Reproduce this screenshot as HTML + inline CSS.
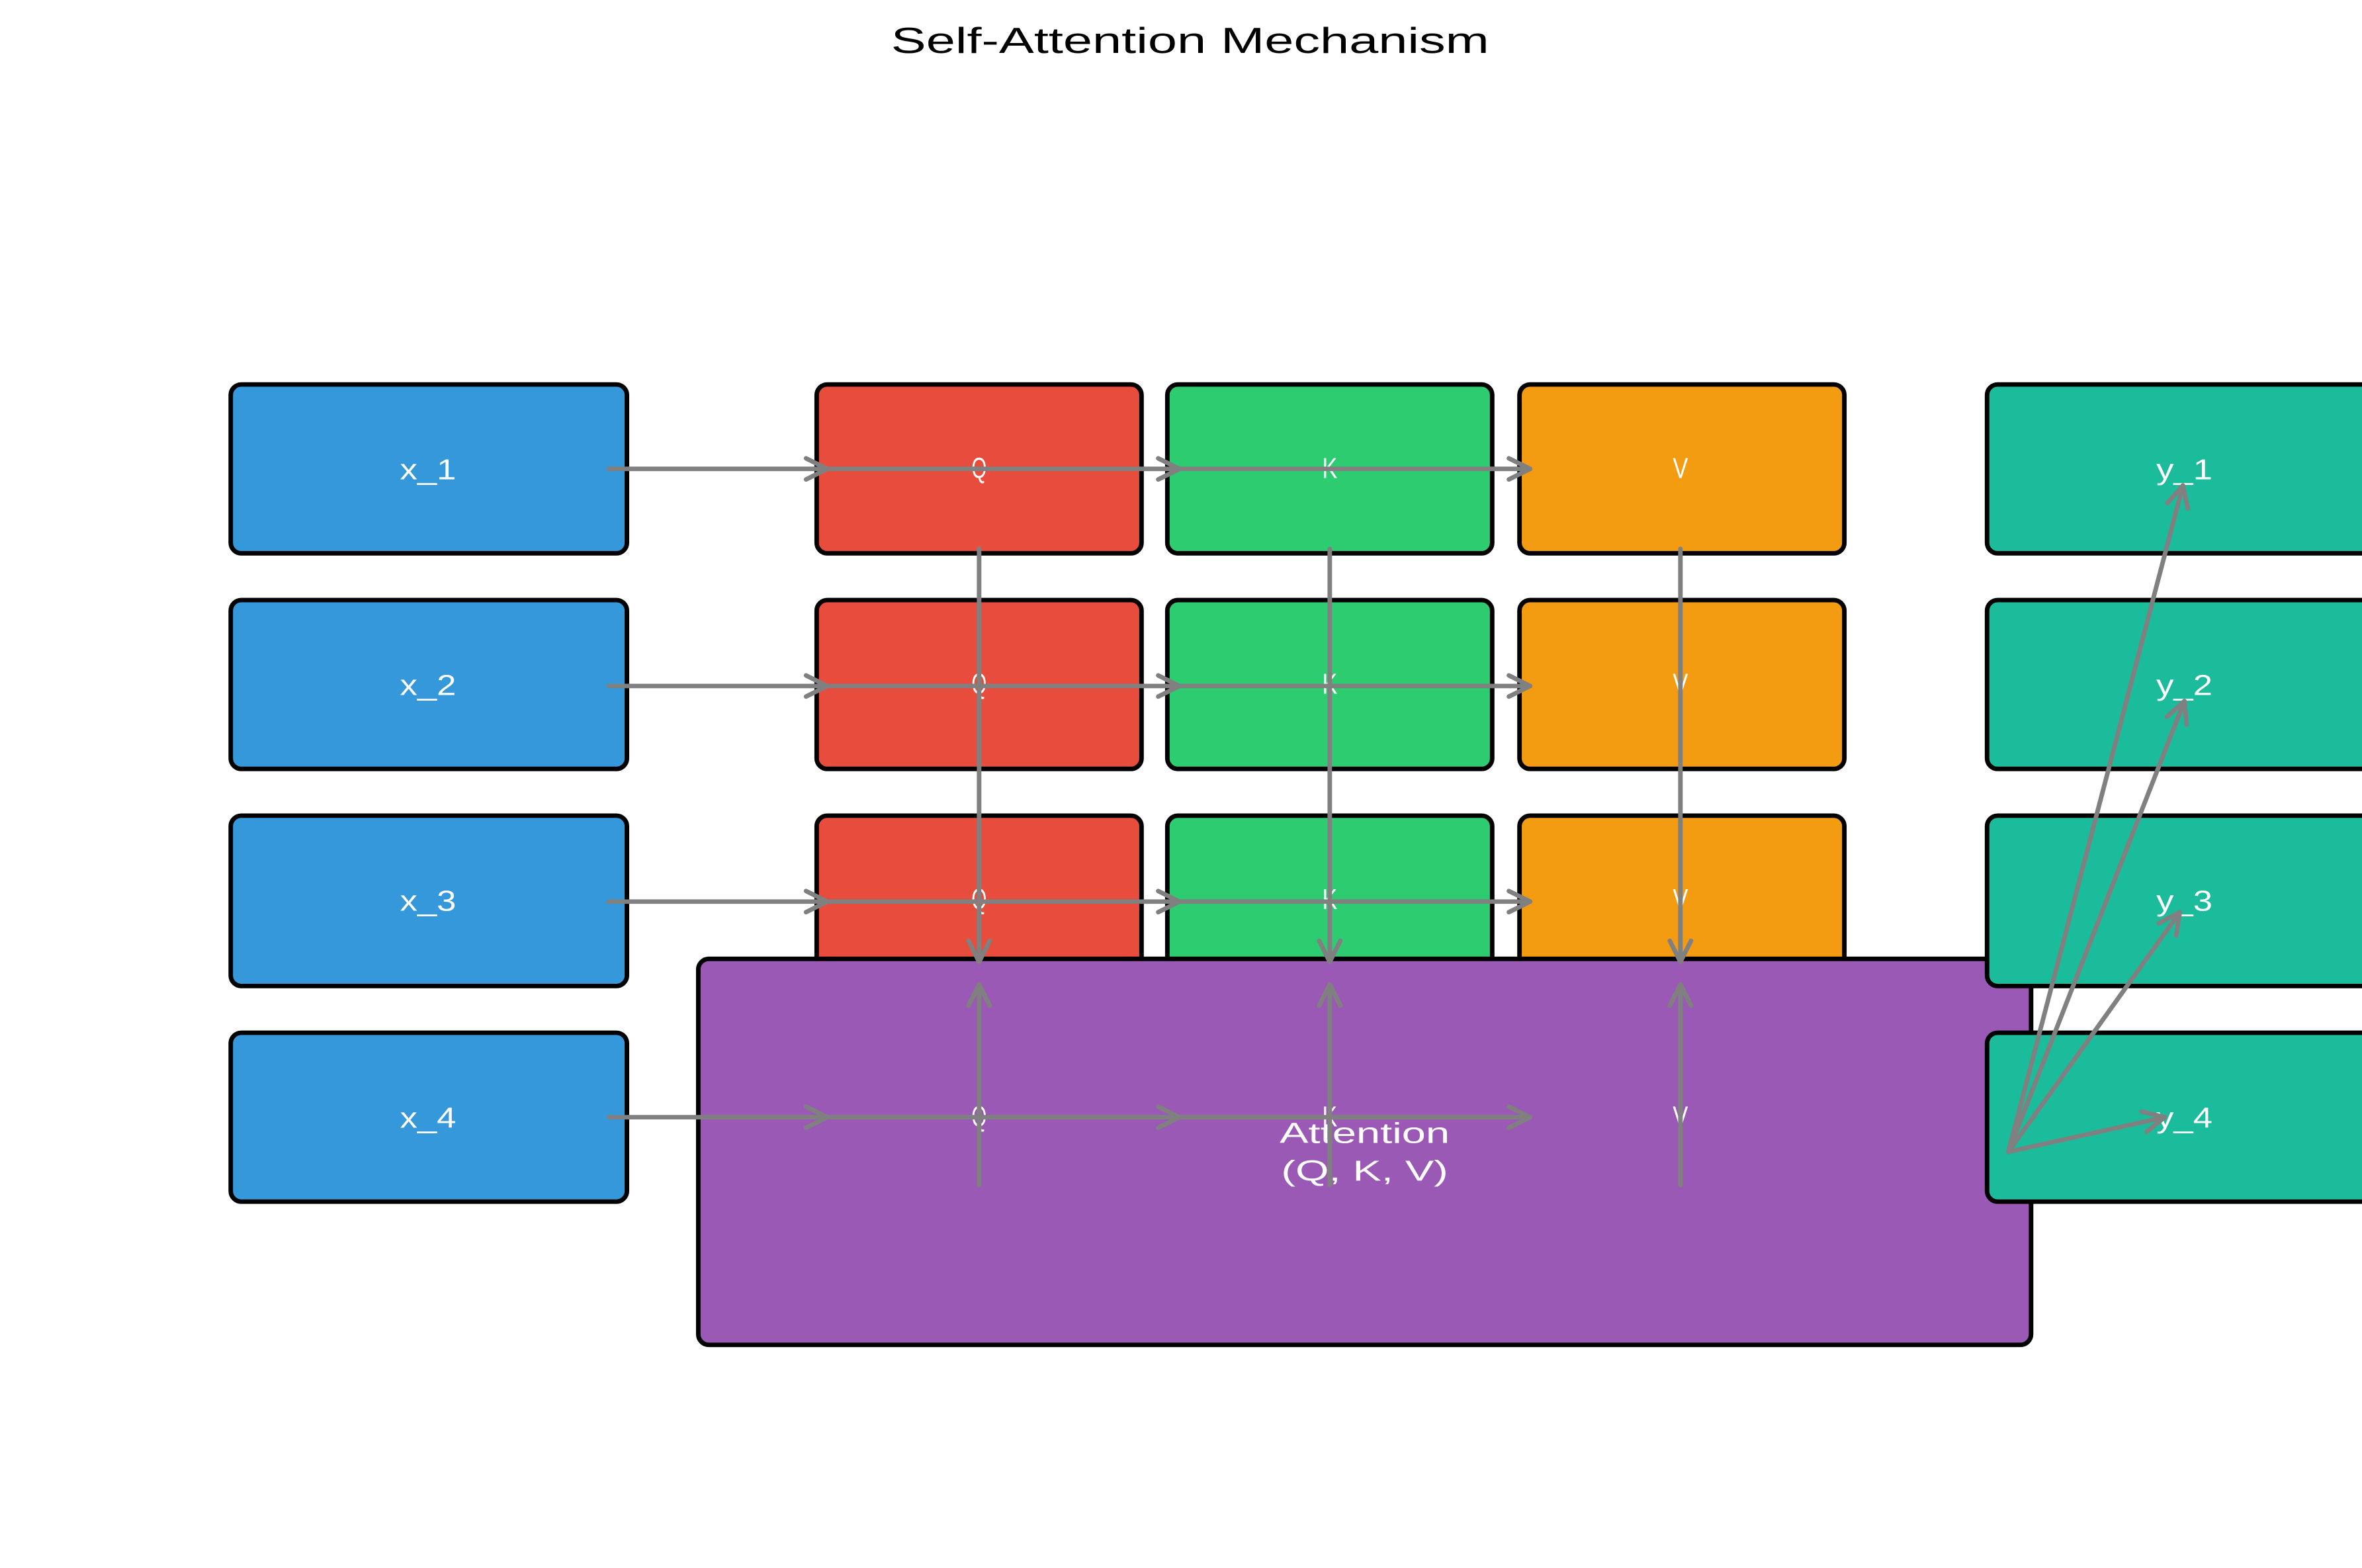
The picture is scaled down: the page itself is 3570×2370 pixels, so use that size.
<!DOCTYPE html>
<html><head><meta charset="utf-8"><style>
html,body{margin:0;padding:0;background:#fff;}
svg{display:block;}
text{font-family:"Liberation Sans","WenQuanYi Zen Hei",sans-serif;fill:#fff;}
</style></head><body>
<svg width="3570" height="2370" viewBox="0 0 1556 1040" preserveAspectRatio="none" xmlns="http://www.w3.org/2000/svg">
<defs>
<marker id="a" viewBox="0 0 20 20" refX="18" refY="10" markerWidth="20" markerHeight="20" markerUnits="userSpaceOnUse" orient="auto">
<path d="M4,3 L18,10 L4,17" fill="none" stroke="#808080" stroke-width="3" stroke-linecap="round" stroke-linejoin="round"/>
</marker>
</defs>
<rect width="1556" height="1040" fill="#fff"/>
<text x="784" y="35" font-size="24" text-anchor="middle" textLength="394" lengthAdjust="spacingAndGlyphs" style="fill:#000">Self-Attention Mechanism</text>
<g stroke="#000" stroke-width="3">
<rect x="152" y="255" width="261" height="112" rx="7" fill="#3498db"/>
<rect x="152" y="398" width="261" height="112" rx="7" fill="#3498db"/>
<rect x="152" y="541" width="261" height="113" rx="7" fill="#3498db"/>
<rect x="152" y="685" width="261" height="112" rx="7" fill="#3498db"/>
<rect x="538" y="255" width="214" height="112" rx="7" fill="#e74c3c"/>
<rect x="538" y="398" width="214" height="112" rx="7" fill="#e74c3c"/>
<rect x="538" y="541" width="214" height="113" rx="7" fill="#e74c3c"/>
<rect x="769" y="255" width="214" height="112" rx="7" fill="#2ecc71"/>
<rect x="769" y="398" width="214" height="112" rx="7" fill="#2ecc71"/>
<rect x="769" y="541" width="214" height="113" rx="7" fill="#2ecc71"/>
<rect x="1001" y="255" width="214" height="112" rx="7" fill="#f39c12"/>
<rect x="1001" y="398" width="214" height="112" rx="7" fill="#f39c12"/>
<rect x="1001" y="541" width="214" height="113" rx="7" fill="#f39c12"/>
<rect x="460" y="636" width="878" height="256" rx="7" fill="#9b59b6"/>
<rect x="1309" y="255" width="270" height="112" rx="7" fill="#1abc9c"/>
<rect x="1309" y="398" width="270" height="112" rx="7" fill="#1abc9c"/>
<rect x="1309" y="541" width="270" height="113" rx="7" fill="#1abc9c"/>
<rect x="1309" y="685" width="270" height="112" rx="7" fill="#1abc9c"/>
</g>
<g font-size="19" text-anchor="middle">
<text x="282" y="318" textLength="37" lengthAdjust="spacingAndGlyphs">x_1</text>
<text x="282" y="461" textLength="37" lengthAdjust="spacingAndGlyphs">x_2</text>
<text x="282" y="604" textLength="37" lengthAdjust="spacingAndGlyphs">x_3</text>
<text x="282" y="748" textLength="37" lengthAdjust="spacingAndGlyphs">x_4</text>
<text x="1439" y="318" textLength="37" lengthAdjust="spacingAndGlyphs">y_1</text>
<text x="1439" y="461" textLength="37" lengthAdjust="spacingAndGlyphs">y_2</text>
<text x="1439" y="604" textLength="37" lengthAdjust="spacingAndGlyphs">y_3</text>
<text x="1439" y="748" textLength="37" lengthAdjust="spacingAndGlyphs">y_4</text>
<text x="645" y="317" textLength="10" lengthAdjust="spacingAndGlyphs">Q</text><text x="876" y="317" textLength="10" lengthAdjust="spacingAndGlyphs">K</text><text x="1107" y="317" textLength="10" lengthAdjust="spacingAndGlyphs">V</text>
<text x="645" y="460" textLength="10" lengthAdjust="spacingAndGlyphs">Q</text><text x="876" y="460" textLength="10" lengthAdjust="spacingAndGlyphs">K</text><text x="1107" y="460" textLength="10" lengthAdjust="spacingAndGlyphs">V</text>
<text x="645" y="603" textLength="10" lengthAdjust="spacingAndGlyphs">Q</text><text x="876" y="603" textLength="10" lengthAdjust="spacingAndGlyphs">K</text><text x="1107" y="603" textLength="10" lengthAdjust="spacingAndGlyphs">V</text>
<text x="645" y="747" textLength="10" lengthAdjust="spacingAndGlyphs">Q</text><text x="876" y="747" textLength="10" lengthAdjust="spacingAndGlyphs">K</text><text x="1107" y="747" textLength="10" lengthAdjust="spacingAndGlyphs">V</text>
<text x="899" y="758" textLength="112" lengthAdjust="spacingAndGlyphs">Attention</text>
<text x="899" y="783" textLength="110" lengthAdjust="spacingAndGlyphs">(Q, K, V)</text>
</g>
<g stroke="#808080" stroke-width="3" fill="none" stroke-linecap="round" marker-end="url(#a)">
<line x1="401" y1="311" x2="545" y2="311"/><line x1="545" y1="311" x2="777" y2="311"/><line x1="777" y1="311" x2="1008" y2="311"/>
<line x1="401" y1="455" x2="545" y2="455"/><line x1="545" y1="455" x2="777" y2="455"/><line x1="777" y1="455" x2="1008" y2="455"/>
<line x1="401" y1="598" x2="545" y2="598"/><line x1="545" y1="598" x2="777" y2="598"/><line x1="777" y1="598" x2="1008" y2="598"/>
<line x1="401" y1="741" x2="545" y2="741"/><line x1="545" y1="741" x2="777" y2="741"/><line x1="777" y1="741" x2="1008" y2="741"/>
<line x1="645" y1="364" x2="645" y2="638"/><line x1="876" y1="364" x2="876" y2="638"/><line x1="1107" y1="364" x2="1107" y2="638"/>
<line x1="645" y1="786" x2="645" y2="653"/><line x1="876" y1="786" x2="876" y2="653"/><line x1="1107" y1="786" x2="1107" y2="653"/>
<line x1="1323" y1="764" x2="1438" y2="322"/><line x1="1323" y1="764" x2="1439" y2="465"/>
<line x1="1323" y1="764" x2="1436" y2="605"/><line x1="1323" y1="764" x2="1426" y2="741"/>
</g>
</svg>
</body></html>
